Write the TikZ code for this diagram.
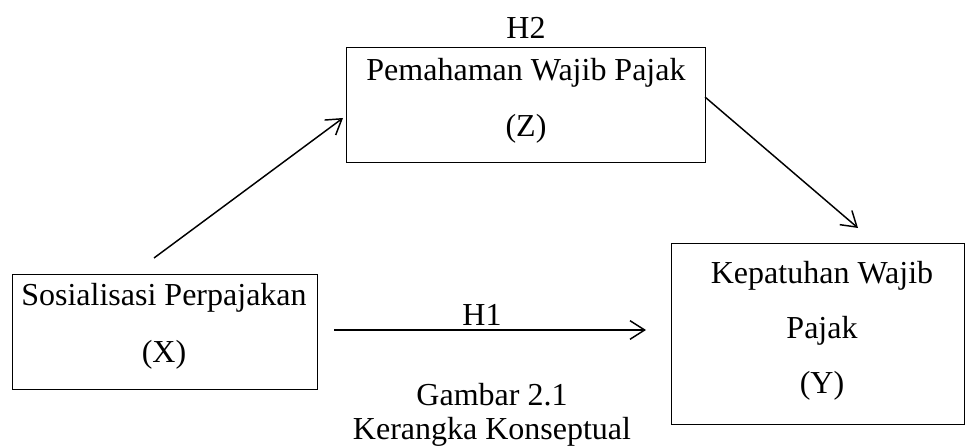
\documentclass[tikz,border=0pt]{standalone}
\usepackage{fontspec}
\setmainfont{Liberation Serif}
\usetikzlibrary{arrows.meta}
\begin{document}
\begin{tikzpicture}[x=0.75pt,y=-0.75pt,
  box/.style={draw, line width=0.9pt, inner sep=0pt, anchor=north west},
  lbl/.style={font=\fontsize{24}{28}\selectfont, anchor=base, inner sep=0pt},
  conn/.style={line width=1.1pt, -{Straight Barb[length=11pt,width=14pt,line width=1.1pt]}}]
\useasboundingbox (0,0) rectangle (965,448);
% boxes
\node[box, minimum width=269.25pt, minimum height=86.25pt] (Z) at (346,47) {};
\node[box, minimum width=228.75pt, minimum height=86.25pt] (X) at (12,274) {};
\node[box, minimum width=219.75pt, minimum height=135.75pt] (Y) at (671,243) {};
% texts
\node[lbl] (h2) at (526,39) {H2};
\node[lbl] (z1) at (526,81) {Pemahaman Wajib Pajak};
\node[lbl] (z2) at (526,137) {(Z)};
\node[lbl] (x1) at (164,306) {Sosialisasi Perpajakan};
\node[lbl] (x2) at (164,363) {(X)};
\node[lbl] (y1) at (822,284) {Kepatuhan Wajib};
\node[lbl] (y2) at (822,339) {Pajak};
\node[lbl] (y3) at (822,394) {(Y)};
\node[lbl] (h1) at (482,326) {H1};
\node[lbl] (cap1) at (492,406) {Gambar 2.1};
\node[lbl] (cap2) at (492,440) {Kerangka Konseptual};
% connector ends
\coordinate (xzs) at (154,258);
\coordinate (xze) at (343,118);
\coordinate (zys) at (705,97);
\coordinate (zye) at (858,228);
\coordinate (xys) at (334,330);
\coordinate (xye) at (646,330);
\draw[conn] (xzs) -- (xze);
\draw[conn] (zys) -- (zye);
\draw[conn] (xys) -- (xye);
\end{tikzpicture}
\end{document}
